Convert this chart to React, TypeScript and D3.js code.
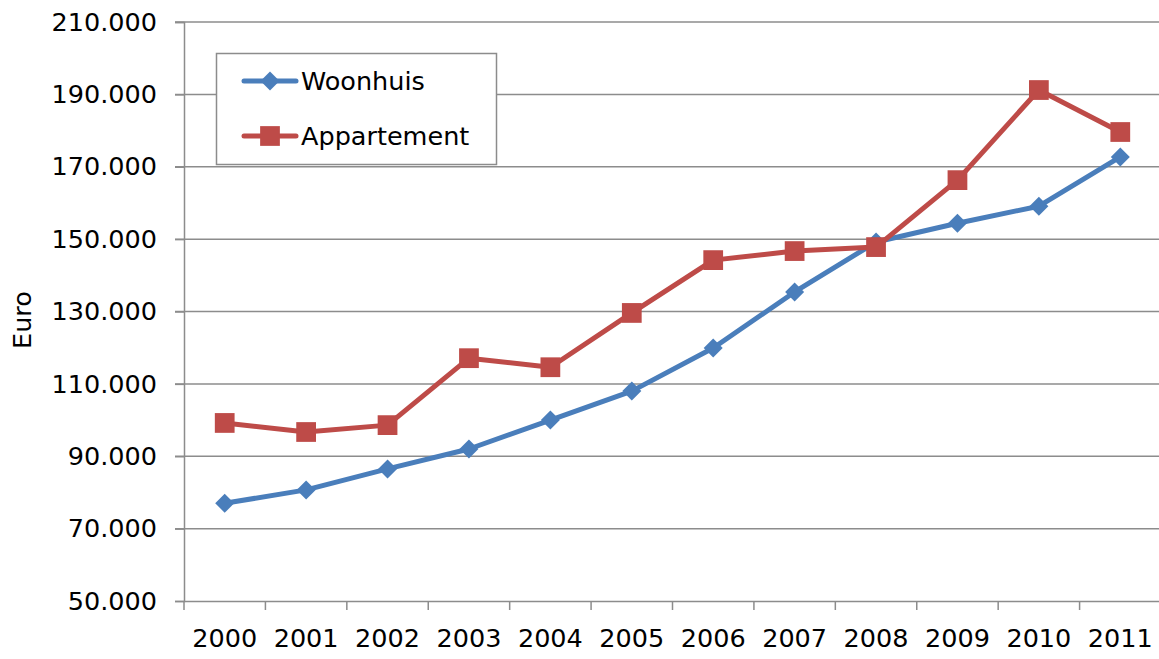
import { useEffect, useRef } from 'react'
import * as d3 from 'd3'

const years = ['2000', '2001', '2002', '2003', '2004', '2005', '2006', '2007', '2008', '2009', '2010', '2011']
const woonhuis = [77000, 80700, 86500, 92000, 100000, 108000, 119900, 135400, 149200, 154400, 159100, 172700]
const appartement = [99200, 96700, 98600, 117100, 114600, 129600, 144200, 146700, 147800, 166300, 191200, 179600]
const yTicks = [50000, 70000, 90000, 110000, 130000, 150000, 170000, 190000, 210000]

const BLUE = '#4a7ebb'
const RED = '#be4b48'
const FONT = '"DejaVu Sans", Verdana, sans-serif'
const FS = '25.5px'

export default function App() {
  const svgRef = useRef<SVGSVGElement>(null)
  const width = 1159
  const height = 659

  useEffect(() => {
    if (!svgRef.current) return
    const svg = d3.select(svgRef.current)
    svg.selectAll('*').remove()

    const left = 184, right = 1161, top = 22, bottom = 601

    const x = d3.scaleBand().domain(years).range([left, right])
    const y = d3.scaleLinear().domain([50000, 210000]).range([bottom, top])
    const fmt = (v: number) => d3.format(',')(v).replace(/,/g, '.')

    // gridlines
    svg.append('g')
      .selectAll('line')
      .data(yTicks.slice(1))
      .enter()
      .append('line')
      .attr('x1', left - 9)
      .attr('x2', width)
      .attr('y1', d => y(d))
      .attr('y2', d => y(d))
      .attr('stroke', '#8c8c8c')
      .attr('stroke-width', 1.5)

    // y axis
    const yAxis = svg.append('g')
      .attr('transform', `translate(${left},0)`)
      .call(d3.axisLeft(y).tickValues(yTicks).tickSize(9).tickPadding(18).tickFormat(d => fmt(+d)))
    yAxis.select('.domain').attr('stroke', '#8c8c8c').attr('stroke-width', 1.5)
    yAxis.selectAll('.tick line').attr('stroke', '#8c8c8c').attr('stroke-width', 1.5)
    yAxis.selectAll('.tick text')
      .attr('fill', '#000')
      .style('font-family', FONT)
      .style('font-size', FS)

    // x axis
    const xAxis = svg.append('g')
      .attr('transform', `translate(0,${bottom})`)
      .call(d3.axisBottom(x).tickSize(0).tickPadding(28))
    xAxis.select('.domain').attr('stroke', '#8c8c8c').attr('stroke-width', 1.5)
    xAxis.selectAll('.tick text')
      .attr('fill', '#000')
      .style('font-family', FONT)
      .style('font-size', FS)
    // category boundary ticks
    svg.append('g')
      .selectAll('line')
      .data(years)
      .enter()
      .append('line')
      .attr('x1', d => x(d)!)
      .attr('x2', d => x(d)!)
      .attr('y1', bottom)
      .attr('y2', bottom + 9)
      .attr('stroke', '#8c8c8c')
      .attr('stroke-width', 1.5)

    // axis title
    svg.append('text')
      .attr('transform', `translate(31,320) rotate(-90)`)
      .attr('text-anchor', 'middle')
      .style('font-family', FONT)
      .style('font-size', FS)
      .text('Euro')

    const cx = (d: string) => x(d)! + x.bandwidth() / 2
    const line = d3.line<number>().x((_, i) => cx(years[i])).y(d => y(d))

    const diamond = d3.symbol().type(d3.symbolDiamond2).size(230)
    const square = d3.symbol().type(d3.symbolSquare).size(390)

    const series = [
      { data: woonhuis, color: BLUE, sym: diamond },
      { data: appartement, color: RED, sym: square },
    ]
    series.forEach(s => {
      svg.append('path')
        .attr('d', line(s.data))
        .attr('fill', 'none')
        .attr('stroke', s.color)
        .attr('stroke-width', 5)
        .attr('stroke-linejoin', 'round')
      svg.append('g')
        .selectAll('path')
        .data(s.data)
        .enter()
        .append('path')
        .attr('d', s.sym())
        .attr('transform', (d, i) => `translate(${cx(years[i])},${y(d)})`)
        .attr('fill', s.color)
    })

    // legend
    const lg = svg.append('g')
    lg.append('rect')
      .attr('x', 216.5).attr('y', 53.5).attr('width', 280).attr('height', 111)
      .attr('fill', '#fff').attr('stroke', '#8c8c8c').attr('stroke-width', 1.5)
    const items = [
      { name: 'Woonhuis', color: BLUE, sym: diamond, yy: 81 },
      { name: 'Appartement', color: RED, sym: square, yy: 136 },
    ]
    items.forEach(it => {
      lg.append('line')
        .attr('x1', 244).attr('x2', 296).attr('y1', it.yy).attr('y2', it.yy)
        .attr('stroke', it.color).attr('stroke-width', 5).attr('stroke-linecap', 'round')
      lg.append('path')
        .attr('d', it.sym())
        .attr('transform', `translate(270,${it.yy})`)
        .attr('fill', it.color)
      lg.append('text')
        .attr('x', 301).attr('y', it.yy)
        .attr('dy', '0.35em')
        .style('font-family', FONT)
        .style('font-size', FS)
        .text(it.name)
    })
  }, [])

  return (
    <svg
      ref={svgRef}
      width={width}
      height={height}
      style={{ position: 'absolute', left: 0, top: 0, background: '#fff' }}
    />
  )
}
